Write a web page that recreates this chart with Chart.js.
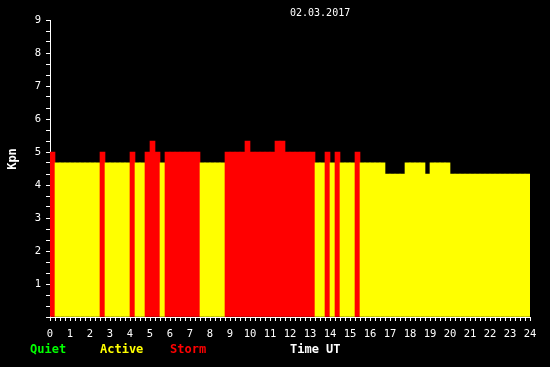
<!DOCTYPE html>
<html>
<head>
<meta charset="utf-8">
<script src="https://cdn.jsdelivr.net/npm/chart.js@4.4.1/dist/chart.umd.min.js"></script>
<style>
    body { margin: 0; background: #000; }
    canvas { display: block; }
</style>
</head>
<body>
<canvas id="kpChart" width="550" height="367"></canvas>
<script>
// Kp index, one value per 15 minutes, 02.03.2017
const kpValues = [
    5, 4.67, 4.67, 4.67, 4.67, 4.67, 4.67, 4.67, 4.67, 4.67,      // 00:00 - 02:15
    5, 4.67, 4.67, 4.67, 4.67, 4.67,                              // 02:30 - 03:45
    5, 4.67, 4.67, 5, 5.33, 5, 4.67,                              // 04:00 - 05:30
    5, 5, 5, 5, 5, 5, 5,                                          // 05:45 - 07:15
    4.67, 4.67, 4.67, 4.67, 4.67,                                 // 07:30 - 08:30
    5, 5, 5, 5, 5.33, 5, 5, 5, 5, 5, 5.33, 5.33,                  // 08:45 - 11:30
    5, 5, 5, 5, 5, 5,                                             // 11:45 - 13:00
    4.67, 4.67, 5, 4.67, 5, 4.67, 4.67, 4.67, 5,                  // 13:15 - 15:15
    4.67, 4.67, 4.67, 4.67, 4.67,                                 // 15:30 - 16:30
    4.33, 4.33, 4.33, 4.33,                                       // 16:45 - 17:30
    4.67, 4.67, 4.67, 4.67, 4.33, 4.67, 4.67, 4.67, 4.67,         // 17:45 - 19:45
    4.33, 4.33, 4.33, 4.33, 4.33, 4.33, 4.33, 4.33,               // 20:00 - 21:45
    4.33, 4.33, 4.33, 4.33, 4.33, 4.33, 4.33, 4.33                // 22:00 - 23:45
];

const chartDate = '02.03.2017';
const yTitle = 'Kpn';
const xTitle = 'Time UT';
const legendNames = ['Quiet', 'Active', 'Storm'];
const legendColors = ['#00ff00', '#ffff00', '#ff0000'];

const yTickValues = [0, 1/3, 2/3, 1, 4/3, 5/3, 2, 7/3, 8/3, 3, 10/3, 11/3, 4, 13/3, 14/3,
    5, 16/3, 17/3, 6, 19/3, 20/3, 7, 22/3, 23/3, 8, 25/3, 26/3, 9];
const xTickValues = [];
for (let h = 0; h <= 24; h += 0.25) {
    xTickValues.push(h);
}

// centre of each 15 minute slot, in hours
const slotCentres = kpValues.map((v, i) => i * 0.25 + 0.125);

function kpColor(v) {
    if (v >= 5) return legendColors[2];
    if (v >= 4) return legendColors[1];
    return legendColors[0];
}

const monoFont = '"DejaVu Sans Mono", "Liberation Mono", monospace';

const textPlugin = {
    id: 'kpTexts',
    beforeDraw(chart) {
        const ctx = chart.ctx;
        ctx.save();
        ctx.fillStyle = '#000';
        ctx.fillRect(0, 0, chart.width, chart.height);
        ctx.restore();
    },
    afterDraw(chart) {
        const ctx = chart.ctx;
        ctx.save();
        ctx.textBaseline = 'middle';

        ctx.font = '10px ' + monoFont;
        ctx.fillStyle = '#fff';
        ctx.textAlign = 'left';
        ctx.fillText(chartDate, 290, 13);

        ctx.font = 'bold 12px ' + monoFont;
        const legendX = [30, 100, 170];
        legendNames.forEach((name, i) => {
            ctx.fillStyle = legendColors[i];
            ctx.fillText(name, legendX[i], 350);
        });
        ctx.fillStyle = '#fff';
        ctx.fillText(xTitle, 290, 350);

        ctx.translate(13, 159);
        ctx.rotate(-Math.PI / 2);
        ctx.textAlign = 'center';
        ctx.fillText(yTitle, 0, 0);
        ctx.restore();
    }
};

new Chart(document.getElementById('kpChart'), {
    type: 'bar',
    data: {
        datasets: [{
            label: 'Kp',
            data: slotCentres.map((x, i) => ({ x: x, y: kpValues[i] })),
            backgroundColor: kpValues.map(kpColor),
            borderWidth: 0,
            barPercentage: 1,
            categoryPercentage: 1
        }]
    },
    options: {
        responsive: false,
        animation: false,
        layout: {
            padding: { top: 20, right: 20, left: 0, bottom: 0 }
        },
        plugins: {
            legend: { display: false },
            tooltip: { enabled: false }
        },
        scales: {
            x: {
                type: 'linear',
                min: 0,
                max: 24,
                offset: false,
                afterBuildTicks: scale => {
                    scale.ticks = xTickValues.map(v => ({ value: v }));
                },
                afterFit: scale => { scale.height = 50; },
                grid: {
                    drawOnChartArea: false,
                    offset: false,
                    color: '#fff',
                    tickLength: 4
                },
                border: { color: '#fff', width: 1 },
                ticks: {
                    autoSkip: false,
                    maxRotation: 0,
                    padding: 7,
                    color: '#fff',
                    font: { family: monoFont, size: 10.5 },
                    callback: v => Number.isInteger(v) ? String(v) : ''
                }
            },
            y: {
                min: 0,
                max: 9,
                afterBuildTicks: scale => {
                    scale.ticks = yTickValues.map(v => ({ value: v }));
                },
                afterFit: scale => { scale.width = 50; },
                grid: {
                    drawOnChartArea: false,
                    color: '#fff',
                    tickLength: 4
                },
                border: { color: '#fff', width: 1 },
                ticks: {
                    autoSkip: false,
                    padding: 5,
                    color: '#fff',
                    font: { family: monoFont, size: 10.5 },
                    callback: v => {
                        const r = Math.round(v);
                        return (Math.abs(v - r) < 0.01 && r > 0) ? String(r) : '';
                    }
                }
            }
        }
    },
    plugins: [textPlugin]
});
</script>
</body>
</html>
